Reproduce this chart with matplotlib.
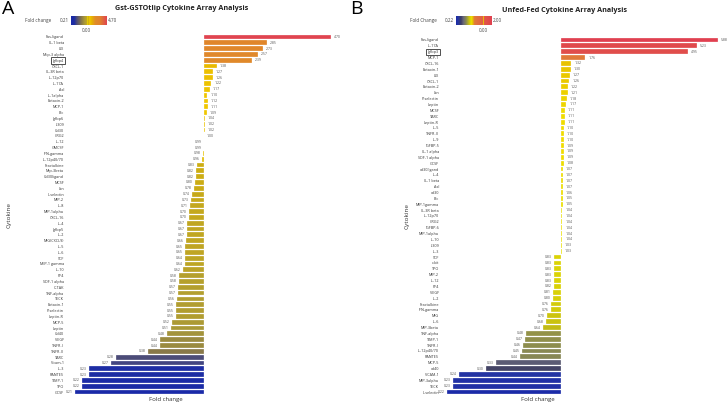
import numpy as np
import matplotlib
matplotlib.use('Agg')
import matplotlib.pyplot as plt
from matplotlib.colors import LinearSegmentedColormap

plt.rcParams['font.family'] = ['Open Sans', 'DejaVu Sans']

# ---- panel A data ----
cyto_a = ['Fas-ligand', 'IL-1 beta', 'LIX', 'Mip-3 alpha', 'Igfbp4', 'CXCL-1', 'IL-3R beta',
          'IL-12p70', 'IL-17A', 'Axl', 'IL-1alpha', 'Eotaxin-2', 'MCP-1', 'Blc', 'Igfbp6',
          'I-309', 'Cd30', 'CRG2', 'IL-12', 'GMCSF', 'IFN-gamma', 'IL-12p40/70', 'Fractalkine',
          'Mip-3beta', 'Cd30ligand', 'MCSF', 'Ltn', 'L-selectin', 'MIP-2', 'IL-8', 'MIP-1alpha',
          'CXCL-16', 'IL-4', 'Igfbp5', 'IL-2', 'MIG(CXCL9)', 'IL-5', 'IL-6', 'SCF',
          'MIP-1 gamma', 'IL-10', 'PF4', 'SDF-1 alpha', 'C-TAK', 'TNF-alpha', 'TECK',
          'Eotaxin-1', 'P-selectin', 'Leptin-R', 'MCP-5', 'Leptin', 'Cd40', 'VEGF', 'TNFR-I',
          'TNFR-II', 'TARC', 'Vcam-1', 'IL-3', 'RANTES', 'TIMP-1', 'TPO', 'GCSF']
fold_a = [4.70, 2.85, 2.73, 2.57, 2.39, 1.38, 1.27, 1.26, 1.22, 1.17, 1.10, 1.12, 1.11, 1.09,
          1.04, 1.02, 1.02, 1.00, 0.99, 0.99, 0.98, 0.96, 0.83, 0.82, 0.82, 0.80, 0.78, 0.74,
          0.73, 0.71, 0.70, 0.70, 0.67, 0.67, 0.67, 0.66, 0.65, 0.65, 0.64, 0.64, 0.62, 0.58,
          0.58, 0.57, 0.57, 0.56, 0.55, 0.55, 0.55, 0.52, 0.51, 0.48, 0.44, 0.44, 0.38, 0.28,
          0.27, 0.23, 0.23, 0.22, 0.22, 0.21]

# ---- panel B data ----
cyto_b = ['Fas-ligand', 'IL-17A', 'Igfbp3', 'MCP-1', 'CXCL-16', 'Eotaxin-1', 'LIX', 'CXCL-1',
          'Eotaxin-2', 'Ltn', 'P-selectin', 'Leptin', 'MCSF', 'TARC', 'Leptin-R', 'IL-5',
          'TNFR-II', 'IL-9', 'IGFBP-5', 'IL-1 alpha', 'SDF-1 alpha', 'GCSF', 'cd30ligand',
          'IL-4', 'IL-1 beta', 'Axl', 'cd30', 'Blc', 'MIP-1gamma', 'IL-3R beta', 'IL-12p70',
          'CRG2', 'IGFBP-6', 'MIP-1alpha', 'IL-10', 'I-309', 'IL-3', 'SCF', 'c-kit', 'TPO',
          'MIP-2', 'IL-12', 'PF4', 'VEGF', 'IL-2', 'Fractalkine', 'IFN-gamma', 'MIG', 'IL-6',
          'MIP-3beta', 'TNF-alpha', 'TIMP-1', 'TNFR-I', 'IL-12p40/70', 'RANTES', 'MCP-5',
          'cd40', 'VCAM-1', 'MIP-3alpha', 'TECK', 'L-selectin']
fold_b = [5.88, 5.23, 4.95, 1.76, 1.32, 1.30, 1.27, 1.26, 1.22, 1.21, 1.18, 1.17, 1.11, 1.11,
          1.11, 1.10, 1.10, 1.10, 1.09, 1.09, 1.09, 1.08, 1.07, 1.07, 1.07, 1.07, 1.06, 1.05,
          1.05, 1.04, 1.04, 1.04, 1.04, 1.04, 1.04, 1.03, 1.03, 0.83, 0.83, 0.83, 0.83, 0.83,
          0.82, 0.81, 0.80, 0.76, 0.76, 0.70, 0.68, 0.64, 0.48, 0.47, 0.46, 0.45, 0.44, 0.33,
          0.30, 0.24, 0.23, 0.23, 0.22]


def to_axis(v):
    # up-regulated: v-1, down-regulated: -(1/v - 1)
    v = np.asarray(v, dtype=float)
    return np.where(v >= 1, v - 1, 1 - 1 / v)


cmap_a_pts = [(-3.8, '#1a2aa8'), (-3.1, '#1e2ea2'), (-2.6, '#4c4c78'), (-1.6, '#8a7a48'),
              (-1.0, '#a89838'), (-0.6, '#bca426'), (-0.15, '#cfae10'), (0.0, '#e8c200'),
              (0.1, '#f0c800'), (0.5, '#e6b400'), (1.3, '#e08a2a'), (2.2, '#e0842c'),
              (3.7, '#e04450')]
cmap_b_pts = [(-3.6, '#1a2aa8'), (-3.1, '#2636a2'), (-2.4, '#3e3e62'), (-1.9, '#66667a'),
              (-1.2, '#8a8a50'), (-1.0, '#9c9a40'), (-0.5, '#c8c010'), (0.0, '#e8e000'),
              (0.1, '#f0dc00'), (0.35, '#e8c000'), (0.75, '#e07a3a'), (4.9, '#e04050')]


def make_cmap(pts):
    lo, hi = pts[0][0], pts[-1][0]
    return LinearSegmentedColormap.from_list(
        'fc', [((p - lo) / (hi - lo), c) for p, c in pts]), lo, hi


def draw_panel(fig, rect, names, vals, cmap_pts, xlim, boxed):
    ax = fig.add_axes(rect)
    cmap, lo, hi = make_cmap(cmap_pts)
    x = to_axis(vals)
    y = np.arange(len(names))
    colors = cmap((x - lo) / (hi - lo))
    ax.barh(y, x, height=0.82, color=colors, edgecolor='white', linewidth=0.2)
    span = xlim[1] - xlim[0]
    for yi, xi, v in zip(y, x, vals):
        if xi >= 0:
            ax.text(xi + span * 0.01, yi, f'{v:.2f}', fontsize=2.5, color='#555555',
                    va='center', ha='left')
        else:
            ax.text(xi - span * 0.008, yi, f'{v:.2f}', fontsize=2.5, color='#555555',
                    va='center', ha='right')
    ax.set_yticks(y)
    ax.set_yticklabels(names, fontsize=2.7, color='#333333')
    ax.set_ylim(len(names) - 0.5, -0.5)
    ax.set_xlim(*xlim)
    ax.set_xticks([])
    ax.tick_params(axis='y', length=0, pad=1.5)
    for s in ax.spines.values():
        s.set_visible(False)
    for lab in ax.get_yticklabels():
        if lab.get_text() == boxed:
            lab.set_bbox(dict(facecolor='none', edgecolor='#333333', linewidth=0.6,
                              boxstyle='square,pad=0.35'))
    return ax, cmap


def draw_legend(fig, rect, cmap, label, vmin, vmax, tick_frac):
    cax = fig.add_axes(rect)
    grad = np.linspace(0, 1, 256).reshape(1, -1)
    cax.imshow(grad, aspect='auto', cmap=cmap, extent=[0, 1, 0, 1])
    cax.axvline(tick_frac, color='#e8d000', lw=0.6)
    cax.set_xticks([])
    cax.set_yticks([])
    for s in cax.spines.values():
        s.set_visible(False)
    cax.text(-0.05, 0.5, vmin, fontsize=3.3, ha='right', va='center', color='#444444',
             transform=cax.transAxes)
    cax.text(-0.55, 0.5, label, fontsize=3.3, ha='right', va='center', color='#444444',
             transform=cax.transAxes)
    cax.text(1.04, 0.5, vmax, fontsize=3.3, ha='left', va='center', color='#444444',
             transform=cax.transAxes)
    cax.text(tick_frac, -0.3, '0.00', fontsize=3.3, ha='center', va='top', color='#444444',
             transform=cax.transAxes)


W, H = 728, 407
fig = plt.figure(figsize=(W / 100, H / 100), dpi=100)

# panel A
ax_a, cmap_a = draw_panel(fig, [66 / W, 1 - 395 / H, 284 / W, 361 / H], cyto_a, fold_a,
                          cmap_a_pts, (-4.02, 4.26), 'Igfbp4')
ax_a.set_xlabel('Fold change', fontsize=4.3, color='#333333')
ax_a.set_ylabel('Cytokine', fontsize=4.6, color='#333333')
ax_a.xaxis.set_label_coords(0.352, -0.006)
ax_a.yaxis.set_label_coords(-0.19, 0.5)
draw_legend(fig, [71 / W, 1 - 25 / H, 35 / W, 9 / H], cmap_a, 'Fold change', '0.21', '4.70',
            0.45)
fig.text(182 / W, 1 - 9 / H, 'Gst-GSTOtlip Cytokine Array Analysis', fontsize=5.2,
         fontweight='bold', ha='center', va='center', color='#222222')
fig.text(2 / W, 1 - 9 / H, 'A', fontsize=14, ha='left', va='center')

# panel B
ax_b, cmap_b = draw_panel(fig, [441 / W, 1 - 395 / H, 287 / W, 358 / H], cyto_b, fold_b,
                          cmap_b_pts, (-3.73, 5.19), 'Igfbp3')
ax_b.set_xlabel('Fold change', fontsize=4.3, color='#333333')
ax_b.set_ylabel('Cytokine', fontsize=4.6, color='#333333')
ax_b.xaxis.set_label_coords(0.338, -0.006)
ax_b.yaxis.set_label_coords(-0.108, 0.5)
draw_legend(fig, [456 / W, 1 - 25 / H, 35 / W, 9 / H], cmap_b, 'Fold Change', '0.22', '2.00',
            0.77)
fig.text(565 / W, 1 - 10 / H, 'Unfed-Fed Cytokine Array Analysis', fontsize=5.2,
         fontweight='bold', ha='center', va='center', color='#222222')
fig.text(350 / W, 1 - 9 / H, 'B', fontsize=14, ha='left', va='center')

fig.savefig('out.png', dpi=100)
plt.close(fig)
